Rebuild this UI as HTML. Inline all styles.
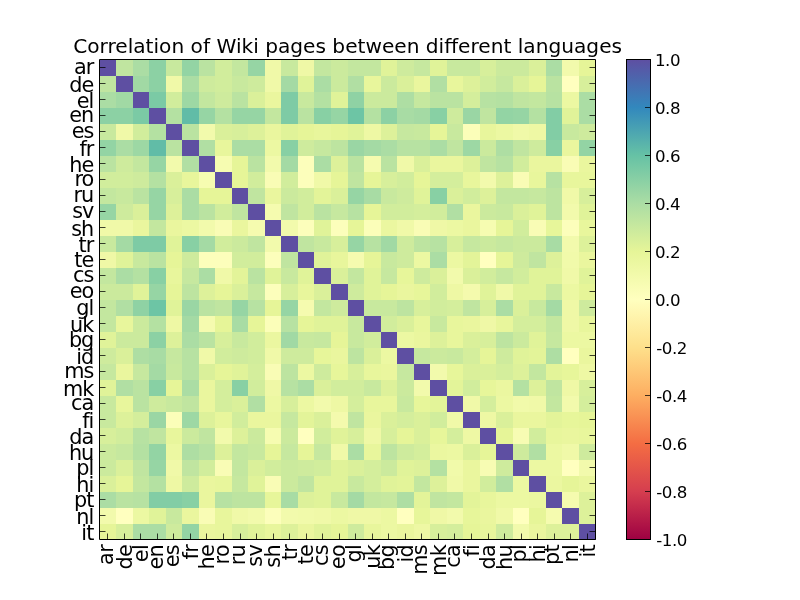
<!DOCTYPE html>
<html><head><meta charset="utf-8"><title>Correlation of Wiki pages between different languages</title>
<style>
html,body{margin:0;padding:0;background:#fff;}
svg{display:block;}
text{font-family:"DejaVu Sans","Liberation Sans",sans-serif;fill:#000;}
.t{font-size:20.15px;}
.yl{font-size:20.8px;text-anchor:end;letter-spacing:-1px;}
.xl{font-size:20.8px;text-anchor:end;letter-spacing:-0.7px;}
.cl{font-size:16.67px;letter-spacing:-0.5px;}
</style></head><body>
<svg width="800" height="600" viewBox="0 0 800 600">
<rect width="800" height="600" fill="#fff"/>
<defs><linearGradient id="cb" x1="0" y1="1" x2="0" y2="0">
<stop offset="0%" stop-color="#9e0142"/>
<stop offset="10%" stop-color="#d53e4f"/>
<stop offset="20%" stop-color="#f46d43"/>
<stop offset="30%" stop-color="#fdae61"/>
<stop offset="40%" stop-color="#fee08b"/>
<stop offset="50%" stop-color="#ffffbf"/>
<stop offset="60%" stop-color="#e6f598"/>
<stop offset="70%" stop-color="#abdda4"/>
<stop offset="80%" stop-color="#66c2a5"/>
<stop offset="90%" stop-color="#3288bd"/>
<stop offset="100%" stop-color="#5e4fa2"/>
</linearGradient></defs>
<g shape-rendering="crispEdges">
<rect x="100" y="60" width="16" height="16" fill="#5e4fa2"/>
<rect x="116" y="60" width="17" height="16" fill="#c0e5a0"/>
<rect x="133" y="60" width="16" height="16" fill="#abdda4"/>
<rect x="149" y="60" width="17" height="16" fill="#8cd1a4"/>
<rect x="166" y="60" width="16" height="16" fill="#c8e99e"/>
<rect x="182" y="60" width="17" height="16" fill="#93d4a4"/>
<rect x="199" y="60" width="16" height="16" fill="#bae3a1"/>
<rect x="215" y="60" width="17" height="16" fill="#d1ed9c"/>
<rect x="232" y="60" width="16" height="16" fill="#c3e79f"/>
<rect x="248" y="60" width="17" height="16" fill="#96d5a4"/>
<rect x="265" y="60" width="16" height="16" fill="#f0f9a8"/>
<rect x="281" y="60" width="17" height="16" fill="#c8e99e"/>
<rect x="298" y="60" width="16" height="16" fill="#eff8a6"/>
<rect x="314" y="60" width="17" height="16" fill="#c3e79f"/>
<rect x="331" y="60" width="17" height="16" fill="#cbea9d"/>
<rect x="348" y="60" width="33" height="16" fill="#c3e79f"/>
<rect x="381" y="60" width="16" height="16" fill="#e0f399"/>
<rect x="397" y="60" width="17" height="16" fill="#ceeb9d"/>
<rect x="414" y="60" width="16" height="16" fill="#c6e89f"/>
<rect x="430" y="60" width="17" height="16" fill="#e0f399"/>
<rect x="447" y="60" width="33" height="16" fill="#c8e99e"/>
<rect x="480" y="60" width="16" height="16" fill="#d7ef9b"/>
<rect x="496" y="60" width="33" height="16" fill="#cbea9d"/>
<rect x="529" y="60" width="17" height="16" fill="#daf09a"/>
<rect x="546" y="60" width="16" height="16" fill="#abdda4"/>
<rect x="562" y="60" width="17" height="16" fill="#f2faac"/>
<rect x="579" y="60" width="17" height="16" fill="#e6f598"/>
<rect x="100" y="76" width="16" height="16" fill="#c0e5a0"/>
<rect x="116" y="76" width="17" height="16" fill="#5e4fa2"/>
<rect x="133" y="76" width="16" height="16" fill="#a1d9a4"/>
<rect x="149" y="76" width="17" height="16" fill="#8cd1a4"/>
<rect x="166" y="76" width="16" height="16" fill="#f0f9a8"/>
<rect x="182" y="76" width="17" height="16" fill="#abdda4"/>
<rect x="199" y="76" width="16" height="16" fill="#ceeb9d"/>
<rect x="215" y="76" width="17" height="16" fill="#d1ed9c"/>
<rect x="232" y="76" width="16" height="16" fill="#c8e99e"/>
<rect x="248" y="76" width="17" height="16" fill="#ceeb9d"/>
<rect x="265" y="76" width="16" height="16" fill="#f0f9a8"/>
<rect x="281" y="76" width="17" height="16" fill="#a4daa4"/>
<rect x="298" y="76" width="16" height="16" fill="#e0f399"/>
<rect x="314" y="76" width="17" height="16" fill="#abdda4"/>
<rect x="331" y="76" width="17" height="16" fill="#cbea9d"/>
<rect x="348" y="76" width="16" height="16" fill="#b1dfa3"/>
<rect x="364" y="76" width="17" height="16" fill="#e8f69c"/>
<rect x="381" y="76" width="16" height="16" fill="#cbea9d"/>
<rect x="397" y="76" width="17" height="16" fill="#daf09a"/>
<rect x="414" y="76" width="16" height="16" fill="#eaf69e"/>
<rect x="430" y="76" width="17" height="16" fill="#b1dfa3"/>
<rect x="447" y="76" width="16" height="16" fill="#e8f69c"/>
<rect x="463" y="76" width="17" height="16" fill="#ddf19a"/>
<rect x="480" y="76" width="16" height="16" fill="#d1ed9c"/>
<rect x="496" y="76" width="17" height="16" fill="#c6e89f"/>
<rect x="513" y="76" width="16" height="16" fill="#daf09a"/>
<rect x="529" y="76" width="17" height="16" fill="#e6f598"/>
<rect x="546" y="76" width="16" height="16" fill="#bae3a1"/>
<rect x="562" y="76" width="17" height="16" fill="#ffffbf"/>
<rect x="579" y="76" width="17" height="16" fill="#d7ef9b"/>
<rect x="100" y="92" width="16" height="16" fill="#abdda4"/>
<rect x="116" y="92" width="17" height="16" fill="#a1d9a4"/>
<rect x="133" y="92" width="16" height="16" fill="#5e4fa2"/>
<rect x="149" y="92" width="17" height="16" fill="#7bcaa5"/>
<rect x="166" y="92" width="16" height="16" fill="#d1ed9c"/>
<rect x="182" y="92" width="17" height="16" fill="#9dd8a4"/>
<rect x="199" y="92" width="16" height="16" fill="#c3e79f"/>
<rect x="215" y="92" width="17" height="16" fill="#ceeb9d"/>
<rect x="232" y="92" width="16" height="16" fill="#bae3a1"/>
<rect x="248" y="92" width="17" height="16" fill="#daf09a"/>
<rect x="265" y="92" width="16" height="16" fill="#eaf69e"/>
<rect x="281" y="92" width="17" height="16" fill="#7ecba5"/>
<rect x="298" y="92" width="16" height="16" fill="#c8e99e"/>
<rect x="314" y="92" width="17" height="16" fill="#b4e1a2"/>
<rect x="331" y="92" width="17" height="16" fill="#e0f399"/>
<rect x="348" y="92" width="16" height="16" fill="#8fd2a4"/>
<rect x="364" y="92" width="33" height="16" fill="#cbea9d"/>
<rect x="397" y="92" width="17" height="16" fill="#aedea3"/>
<rect x="414" y="92" width="16" height="16" fill="#c6e89f"/>
<rect x="430" y="92" width="33" height="16" fill="#bae3a1"/>
<rect x="463" y="92" width="17" height="16" fill="#d4ee9c"/>
<rect x="480" y="92" width="16" height="16" fill="#b7e2a2"/>
<rect x="496" y="92" width="17" height="16" fill="#b4e1a2"/>
<rect x="513" y="92" width="16" height="16" fill="#c0e5a0"/>
<rect x="529" y="92" width="17" height="16" fill="#c3e79f"/>
<rect x="546" y="92" width="16" height="16" fill="#b7e2a2"/>
<rect x="562" y="92" width="17" height="16" fill="#ecf8a2"/>
<rect x="579" y="92" width="17" height="16" fill="#abdda4"/>
<rect x="100" y="108" width="33" height="16" fill="#8cd1a4"/>
<rect x="133" y="108" width="16" height="16" fill="#7bcaa5"/>
<rect x="149" y="108" width="17" height="16" fill="#5e4fa2"/>
<rect x="166" y="108" width="16" height="16" fill="#b4e1a2"/>
<rect x="182" y="108" width="17" height="16" fill="#61bca7"/>
<rect x="199" y="108" width="16" height="16" fill="#96d5a4"/>
<rect x="215" y="108" width="17" height="16" fill="#b4e1a2"/>
<rect x="232" y="108" width="33" height="16" fill="#96d5a4"/>
<rect x="265" y="108" width="16" height="16" fill="#c3e79f"/>
<rect x="281" y="108" width="17" height="16" fill="#7ecba5"/>
<rect x="298" y="108" width="16" height="16" fill="#bae3a1"/>
<rect x="314" y="108" width="17" height="16" fill="#88d0a4"/>
<rect x="331" y="108" width="17" height="16" fill="#96d5a4"/>
<rect x="348" y="108" width="16" height="16" fill="#6dc5a5"/>
<rect x="364" y="108" width="17" height="16" fill="#b4e1a2"/>
<rect x="381" y="108" width="16" height="16" fill="#8cd1a4"/>
<rect x="397" y="108" width="17" height="16" fill="#a8dca4"/>
<rect x="414" y="108" width="16" height="16" fill="#a4daa4"/>
<rect x="430" y="108" width="17" height="16" fill="#88d0a4"/>
<rect x="447" y="108" width="16" height="16" fill="#ceeb9d"/>
<rect x="463" y="108" width="17" height="16" fill="#9ad6a4"/>
<rect x="480" y="108" width="16" height="16" fill="#c0e5a0"/>
<rect x="496" y="108" width="17" height="16" fill="#93d4a4"/>
<rect x="513" y="108" width="16" height="16" fill="#96d5a4"/>
<rect x="529" y="108" width="17" height="16" fill="#b4e1a2"/>
<rect x="546" y="108" width="16" height="16" fill="#82cda5"/>
<rect x="562" y="108" width="17" height="16" fill="#e0f399"/>
<rect x="579" y="108" width="17" height="16" fill="#abdda4"/>
<rect x="100" y="124" width="16" height="16" fill="#c8e99e"/>
<rect x="116" y="124" width="17" height="16" fill="#f0f9a8"/>
<rect x="133" y="124" width="16" height="16" fill="#d1ed9c"/>
<rect x="149" y="124" width="17" height="16" fill="#b4e1a2"/>
<rect x="166" y="124" width="16" height="16" fill="#5e4fa2"/>
<rect x="182" y="124" width="17" height="16" fill="#bae3a1"/>
<rect x="199" y="124" width="16" height="16" fill="#f2faac"/>
<rect x="215" y="124" width="17" height="16" fill="#daf09a"/>
<rect x="232" y="124" width="16" height="16" fill="#d7ef9b"/>
<rect x="248" y="124" width="17" height="16" fill="#ddf19a"/>
<rect x="265" y="124" width="16" height="16" fill="#eaf69e"/>
<rect x="281" y="124" width="17" height="16" fill="#e0f399"/>
<rect x="298" y="124" width="16" height="16" fill="#e6f598"/>
<rect x="314" y="124" width="17" height="16" fill="#e8f69c"/>
<rect x="331" y="124" width="17" height="16" fill="#e6f598"/>
<rect x="348" y="124" width="16" height="16" fill="#e0f399"/>
<rect x="364" y="124" width="17" height="16" fill="#eef8a4"/>
<rect x="381" y="124" width="16" height="16" fill="#ddf19a"/>
<rect x="397" y="124" width="17" height="16" fill="#c6e89f"/>
<rect x="414" y="124" width="16" height="16" fill="#c8e99e"/>
<rect x="430" y="124" width="17" height="16" fill="#e6f598"/>
<rect x="447" y="124" width="16" height="16" fill="#c8e99e"/>
<rect x="463" y="124" width="17" height="16" fill="#fbfeb9"/>
<rect x="480" y="124" width="16" height="16" fill="#e8f69c"/>
<rect x="496" y="124" width="17" height="16" fill="#ecf8a2"/>
<rect x="513" y="124" width="16" height="16" fill="#f0f9a8"/>
<rect x="529" y="124" width="17" height="16" fill="#eef8a4"/>
<rect x="546" y="124" width="16" height="16" fill="#82cda5"/>
<rect x="562" y="124" width="17" height="16" fill="#c8e99e"/>
<rect x="579" y="124" width="17" height="16" fill="#ceeb9d"/>
<rect x="100" y="140" width="16" height="16" fill="#93d4a4"/>
<rect x="116" y="140" width="17" height="16" fill="#abdda4"/>
<rect x="133" y="140" width="16" height="16" fill="#9dd8a4"/>
<rect x="149" y="140" width="17" height="16" fill="#61bca7"/>
<rect x="166" y="140" width="16" height="16" fill="#bae3a1"/>
<rect x="182" y="140" width="17" height="16" fill="#5e4fa2"/>
<rect x="199" y="140" width="16" height="16" fill="#b1dfa3"/>
<rect x="215" y="140" width="17" height="16" fill="#e8f69c"/>
<rect x="232" y="140" width="33" height="16" fill="#abdda4"/>
<rect x="265" y="140" width="16" height="16" fill="#ecf8a2"/>
<rect x="281" y="140" width="17" height="16" fill="#88d0a4"/>
<rect x="298" y="140" width="16" height="16" fill="#ceeb9d"/>
<rect x="314" y="140" width="17" height="16" fill="#c6e89f"/>
<rect x="331" y="140" width="17" height="16" fill="#bde4a0"/>
<rect x="348" y="140" width="16" height="16" fill="#9ad6a4"/>
<rect x="364" y="140" width="17" height="16" fill="#a4daa4"/>
<rect x="381" y="140" width="16" height="16" fill="#abdda4"/>
<rect x="397" y="140" width="33" height="16" fill="#b7e2a2"/>
<rect x="430" y="140" width="17" height="16" fill="#abdda4"/>
<rect x="447" y="140" width="16" height="16" fill="#c0e5a0"/>
<rect x="463" y="140" width="17" height="16" fill="#9dd8a4"/>
<rect x="480" y="140" width="16" height="16" fill="#cbea9d"/>
<rect x="496" y="140" width="17" height="16" fill="#aedea3"/>
<rect x="513" y="140" width="16" height="16" fill="#c0e5a0"/>
<rect x="529" y="140" width="17" height="16" fill="#ceeb9d"/>
<rect x="546" y="140" width="16" height="16" fill="#88d0a4"/>
<rect x="562" y="140" width="17" height="16" fill="#eaf69e"/>
<rect x="579" y="140" width="17" height="16" fill="#93d4a4"/>
<rect x="100" y="156" width="16" height="16" fill="#bae3a1"/>
<rect x="116" y="156" width="17" height="16" fill="#ceeb9d"/>
<rect x="133" y="156" width="16" height="16" fill="#c3e79f"/>
<rect x="149" y="156" width="17" height="16" fill="#96d5a4"/>
<rect x="166" y="156" width="16" height="16" fill="#f2faac"/>
<rect x="182" y="156" width="17" height="16" fill="#b1dfa3"/>
<rect x="199" y="156" width="16" height="16" fill="#5e4fa2"/>
<rect x="215" y="156" width="17" height="16" fill="#f6fcb1"/>
<rect x="232" y="156" width="16" height="16" fill="#e6f598"/>
<rect x="248" y="156" width="17" height="16" fill="#bae3a1"/>
<rect x="265" y="156" width="16" height="16" fill="#f2faac"/>
<rect x="281" y="156" width="17" height="16" fill="#a4daa4"/>
<rect x="298" y="156" width="16" height="16" fill="#fcfebb"/>
<rect x="314" y="156" width="17" height="16" fill="#abdda4"/>
<rect x="331" y="156" width="17" height="16" fill="#ddf19a"/>
<rect x="348" y="156" width="16" height="16" fill="#bae3a1"/>
<rect x="364" y="156" width="17" height="16" fill="#f5fbaf"/>
<rect x="381" y="156" width="16" height="16" fill="#bae3a1"/>
<rect x="397" y="156" width="17" height="16" fill="#f0f9a8"/>
<rect x="414" y="156" width="16" height="16" fill="#daf09a"/>
<rect x="430" y="156" width="33" height="16" fill="#eaf69e"/>
<rect x="463" y="156" width="17" height="16" fill="#ddf19a"/>
<rect x="480" y="156" width="16" height="16" fill="#c0e5a0"/>
<rect x="496" y="156" width="17" height="16" fill="#b7e2a2"/>
<rect x="513" y="156" width="16" height="16" fill="#d1ed9c"/>
<rect x="529" y="156" width="33" height="16" fill="#eaf69e"/>
<rect x="562" y="156" width="17" height="16" fill="#f9fcb5"/>
<rect x="579" y="156" width="17" height="16" fill="#eaf69e"/>
<rect x="100" y="172" width="33" height="16" fill="#d1ed9c"/>
<rect x="133" y="172" width="16" height="16" fill="#ceeb9d"/>
<rect x="149" y="172" width="17" height="16" fill="#b4e1a2"/>
<rect x="166" y="172" width="16" height="16" fill="#daf09a"/>
<rect x="182" y="172" width="17" height="16" fill="#e8f69c"/>
<rect x="199" y="172" width="16" height="16" fill="#f6fcb1"/>
<rect x="215" y="172" width="17" height="16" fill="#5e4fa2"/>
<rect x="232" y="172" width="16" height="16" fill="#e6f598"/>
<rect x="248" y="172" width="17" height="16" fill="#d1ed9c"/>
<rect x="265" y="172" width="16" height="16" fill="#f9fcb5"/>
<rect x="281" y="172" width="17" height="16" fill="#d1ed9c"/>
<rect x="298" y="172" width="16" height="16" fill="#fcfebb"/>
<rect x="314" y="172" width="17" height="16" fill="#f0f9a8"/>
<rect x="331" y="172" width="17" height="16" fill="#e6f598"/>
<rect x="348" y="172" width="16" height="16" fill="#c0e5a0"/>
<rect x="364" y="172" width="17" height="16" fill="#e6f598"/>
<rect x="381" y="172" width="16" height="16" fill="#d7ef9b"/>
<rect x="397" y="172" width="17" height="16" fill="#d1ed9c"/>
<rect x="414" y="172" width="16" height="16" fill="#e6f598"/>
<rect x="430" y="172" width="33" height="16" fill="#d4ee9c"/>
<rect x="463" y="172" width="17" height="16" fill="#e8f69c"/>
<rect x="480" y="172" width="16" height="16" fill="#f2faac"/>
<rect x="496" y="172" width="17" height="16" fill="#ddf19a"/>
<rect x="513" y="172" width="16" height="16" fill="#f9fcb5"/>
<rect x="529" y="172" width="17" height="16" fill="#e8f69c"/>
<rect x="546" y="172" width="16" height="16" fill="#b7e2a2"/>
<rect x="562" y="172" width="34" height="16" fill="#e8f69c"/>
<rect x="100" y="188" width="16" height="16" fill="#c3e79f"/>
<rect x="116" y="188" width="17" height="16" fill="#c8e99e"/>
<rect x="133" y="188" width="16" height="16" fill="#bae3a1"/>
<rect x="149" y="188" width="17" height="16" fill="#96d5a4"/>
<rect x="166" y="188" width="16" height="16" fill="#d7ef9b"/>
<rect x="182" y="188" width="17" height="16" fill="#abdda4"/>
<rect x="199" y="188" width="33" height="16" fill="#e6f598"/>
<rect x="232" y="188" width="16" height="16" fill="#5e4fa2"/>
<rect x="248" y="188" width="17" height="16" fill="#c0e5a0"/>
<rect x="265" y="188" width="16" height="16" fill="#eaf69e"/>
<rect x="281" y="188" width="17" height="16" fill="#cbea9d"/>
<rect x="298" y="188" width="16" height="16" fill="#d1ed9c"/>
<rect x="314" y="188" width="17" height="16" fill="#e3f499"/>
<rect x="331" y="188" width="17" height="16" fill="#daf09a"/>
<rect x="348" y="188" width="16" height="16" fill="#96d5a4"/>
<rect x="364" y="188" width="17" height="16" fill="#a8dca4"/>
<rect x="381" y="188" width="16" height="16" fill="#c8e99e"/>
<rect x="397" y="188" width="17" height="16" fill="#ceeb9d"/>
<rect x="414" y="188" width="16" height="16" fill="#e0f399"/>
<rect x="430" y="188" width="17" height="16" fill="#88d0a4"/>
<rect x="447" y="188" width="16" height="16" fill="#daf09a"/>
<rect x="463" y="188" width="17" height="16" fill="#d1ed9c"/>
<rect x="480" y="188" width="16" height="16" fill="#ddf19a"/>
<rect x="496" y="188" width="33" height="16" fill="#c3e79f"/>
<rect x="529" y="188" width="17" height="16" fill="#c6e89f"/>
<rect x="546" y="188" width="16" height="16" fill="#bde4a0"/>
<rect x="562" y="188" width="17" height="16" fill="#f0f9a8"/>
<rect x="579" y="188" width="17" height="16" fill="#d7ef9b"/>
<rect x="100" y="204" width="16" height="16" fill="#96d5a4"/>
<rect x="116" y="204" width="17" height="16" fill="#ceeb9d"/>
<rect x="133" y="204" width="16" height="16" fill="#daf09a"/>
<rect x="149" y="204" width="17" height="16" fill="#96d5a4"/>
<rect x="166" y="204" width="16" height="16" fill="#ddf19a"/>
<rect x="182" y="204" width="17" height="16" fill="#abdda4"/>
<rect x="199" y="204" width="16" height="16" fill="#bae3a1"/>
<rect x="215" y="204" width="17" height="16" fill="#d1ed9c"/>
<rect x="232" y="204" width="16" height="16" fill="#c0e5a0"/>
<rect x="248" y="204" width="17" height="16" fill="#5e4fa2"/>
<rect x="265" y="204" width="16" height="16" fill="#f5fbaf"/>
<rect x="281" y="204" width="17" height="16" fill="#c0e5a0"/>
<rect x="298" y="204" width="16" height="16" fill="#d1ed9c"/>
<rect x="314" y="204" width="17" height="16" fill="#bae3a1"/>
<rect x="331" y="204" width="17" height="16" fill="#c6e89f"/>
<rect x="348" y="204" width="16" height="16" fill="#b7e2a2"/>
<rect x="364" y="204" width="17" height="16" fill="#e6f598"/>
<rect x="381" y="204" width="33" height="16" fill="#d1ed9c"/>
<rect x="414" y="204" width="16" height="16" fill="#d4ee9c"/>
<rect x="430" y="204" width="17" height="16" fill="#d1ed9c"/>
<rect x="447" y="204" width="16" height="16" fill="#b1dfa3"/>
<rect x="463" y="204" width="17" height="16" fill="#eaf69e"/>
<rect x="480" y="204" width="16" height="16" fill="#cbea9d"/>
<rect x="496" y="204" width="17" height="16" fill="#c8e99e"/>
<rect x="513" y="204" width="16" height="16" fill="#daf09a"/>
<rect x="529" y="204" width="17" height="16" fill="#e0f399"/>
<rect x="546" y="204" width="16" height="16" fill="#bde4a0"/>
<rect x="562" y="204" width="17" height="16" fill="#f2faac"/>
<rect x="579" y="204" width="17" height="16" fill="#e0f399"/>
<rect x="100" y="220" width="33" height="16" fill="#f0f9a8"/>
<rect x="133" y="220" width="16" height="16" fill="#eaf69e"/>
<rect x="149" y="220" width="17" height="16" fill="#c3e79f"/>
<rect x="166" y="220" width="16" height="16" fill="#eaf69e"/>
<rect x="182" y="220" width="17" height="16" fill="#ecf8a2"/>
<rect x="199" y="220" width="16" height="16" fill="#f2faac"/>
<rect x="215" y="220" width="17" height="16" fill="#f9fcb5"/>
<rect x="232" y="220" width="16" height="16" fill="#eaf69e"/>
<rect x="248" y="220" width="17" height="16" fill="#f5fbaf"/>
<rect x="265" y="220" width="16" height="16" fill="#5e4fa2"/>
<rect x="281" y="220" width="17" height="16" fill="#f2faac"/>
<rect x="298" y="220" width="16" height="16" fill="#fcfebb"/>
<rect x="314" y="220" width="17" height="16" fill="#e0f399"/>
<rect x="331" y="220" width="17" height="16" fill="#fcfebb"/>
<rect x="348" y="220" width="16" height="16" fill="#e6f598"/>
<rect x="364" y="220" width="17" height="16" fill="#fbfeb9"/>
<rect x="381" y="220" width="16" height="16" fill="#ebf7a0"/>
<rect x="397" y="220" width="17" height="16" fill="#f0f9a8"/>
<rect x="414" y="220" width="16" height="16" fill="#f9fcb5"/>
<rect x="430" y="220" width="17" height="16" fill="#eff8a6"/>
<rect x="447" y="220" width="16" height="16" fill="#ecf8a2"/>
<rect x="463" y="220" width="17" height="16" fill="#eaf69e"/>
<rect x="480" y="220" width="16" height="16" fill="#f6fcb1"/>
<rect x="496" y="220" width="17" height="16" fill="#e6f598"/>
<rect x="513" y="220" width="16" height="16" fill="#d1ed9c"/>
<rect x="529" y="220" width="17" height="16" fill="#f9fcb5"/>
<rect x="546" y="220" width="16" height="16" fill="#e7f69a"/>
<rect x="562" y="220" width="17" height="16" fill="#fcfebb"/>
<rect x="579" y="220" width="17" height="16" fill="#e8f69c"/>
<rect x="100" y="236" width="16" height="16" fill="#c8e99e"/>
<rect x="116" y="236" width="17" height="16" fill="#a4daa4"/>
<rect x="133" y="236" width="33" height="16" fill="#7ecba5"/>
<rect x="166" y="236" width="16" height="16" fill="#e0f399"/>
<rect x="182" y="236" width="17" height="16" fill="#88d0a4"/>
<rect x="199" y="236" width="16" height="16" fill="#a4daa4"/>
<rect x="215" y="236" width="17" height="16" fill="#d1ed9c"/>
<rect x="232" y="236" width="16" height="16" fill="#cbea9d"/>
<rect x="248" y="236" width="17" height="16" fill="#c0e5a0"/>
<rect x="265" y="236" width="16" height="16" fill="#f2faac"/>
<rect x="281" y="236" width="17" height="16" fill="#5e4fa2"/>
<rect x="298" y="236" width="16" height="16" fill="#c0e5a0"/>
<rect x="314" y="236" width="17" height="16" fill="#c8e99e"/>
<rect x="331" y="236" width="17" height="16" fill="#d7ef9b"/>
<rect x="348" y="236" width="16" height="16" fill="#96d5a4"/>
<rect x="364" y="236" width="17" height="16" fill="#b7e2a2"/>
<rect x="381" y="236" width="16" height="16" fill="#a1d9a4"/>
<rect x="397" y="236" width="17" height="16" fill="#ceeb9d"/>
<rect x="414" y="236" width="16" height="16" fill="#bde4a0"/>
<rect x="430" y="236" width="17" height="16" fill="#b7e2a2"/>
<rect x="447" y="236" width="16" height="16" fill="#d7ef9b"/>
<rect x="463" y="236" width="17" height="16" fill="#c6e89f"/>
<rect x="480" y="236" width="16" height="16" fill="#cbea9d"/>
<rect x="496" y="236" width="17" height="16" fill="#c6e89f"/>
<rect x="513" y="236" width="33" height="16" fill="#cbea9d"/>
<rect x="546" y="236" width="16" height="16" fill="#a8dca4"/>
<rect x="562" y="236" width="17" height="16" fill="#f2faac"/>
<rect x="579" y="236" width="17" height="16" fill="#ddf19a"/>
<rect x="100" y="252" width="16" height="16" fill="#eff8a6"/>
<rect x="116" y="252" width="17" height="16" fill="#e0f399"/>
<rect x="133" y="252" width="16" height="16" fill="#c8e99e"/>
<rect x="149" y="252" width="17" height="16" fill="#bae3a1"/>
<rect x="166" y="252" width="16" height="16" fill="#e6f598"/>
<rect x="182" y="252" width="17" height="16" fill="#ceeb9d"/>
<rect x="199" y="252" width="33" height="16" fill="#fcfebb"/>
<rect x="232" y="252" width="33" height="16" fill="#d1ed9c"/>
<rect x="265" y="252" width="16" height="16" fill="#fcfebb"/>
<rect x="281" y="252" width="17" height="16" fill="#c0e5a0"/>
<rect x="298" y="252" width="16" height="16" fill="#5e4fa2"/>
<rect x="314" y="252" width="17" height="16" fill="#e0f399"/>
<rect x="331" y="252" width="17" height="16" fill="#e8f69c"/>
<rect x="348" y="252" width="16" height="16" fill="#f5fbaf"/>
<rect x="364" y="252" width="17" height="16" fill="#e6f598"/>
<rect x="381" y="252" width="16" height="16" fill="#c8e99e"/>
<rect x="397" y="252" width="17" height="16" fill="#ceeb9d"/>
<rect x="414" y="252" width="16" height="16" fill="#ecf8a2"/>
<rect x="430" y="252" width="17" height="16" fill="#abdda4"/>
<rect x="447" y="252" width="16" height="16" fill="#ecf8a2"/>
<rect x="463" y="252" width="17" height="16" fill="#e3f499"/>
<rect x="480" y="252" width="16" height="16" fill="#ffffbf"/>
<rect x="496" y="252" width="17" height="16" fill="#e6f598"/>
<rect x="513" y="252" width="16" height="16" fill="#ceeb9d"/>
<rect x="529" y="252" width="17" height="16" fill="#c0e5a0"/>
<rect x="546" y="252" width="16" height="16" fill="#ddf19a"/>
<rect x="562" y="252" width="17" height="16" fill="#f1faaa"/>
<rect x="579" y="252" width="17" height="16" fill="#eaf69e"/>
<rect x="100" y="268" width="16" height="16" fill="#c3e79f"/>
<rect x="116" y="268" width="17" height="16" fill="#abdda4"/>
<rect x="133" y="268" width="16" height="16" fill="#b4e1a2"/>
<rect x="149" y="268" width="17" height="16" fill="#88d0a4"/>
<rect x="166" y="268" width="16" height="16" fill="#e8f69c"/>
<rect x="182" y="268" width="17" height="16" fill="#c6e89f"/>
<rect x="199" y="268" width="16" height="16" fill="#abdda4"/>
<rect x="215" y="268" width="17" height="16" fill="#f0f9a8"/>
<rect x="232" y="268" width="16" height="16" fill="#e3f499"/>
<rect x="248" y="268" width="17" height="16" fill="#bae3a1"/>
<rect x="265" y="268" width="16" height="16" fill="#e0f399"/>
<rect x="281" y="268" width="17" height="16" fill="#c8e99e"/>
<rect x="298" y="268" width="16" height="16" fill="#e0f399"/>
<rect x="314" y="268" width="17" height="16" fill="#5e4fa2"/>
<rect x="331" y="268" width="17" height="16" fill="#daf09a"/>
<rect x="348" y="268" width="16" height="16" fill="#c3e79f"/>
<rect x="364" y="268" width="17" height="16" fill="#e0f399"/>
<rect x="381" y="268" width="16" height="16" fill="#c6e89f"/>
<rect x="397" y="268" width="17" height="16" fill="#e7f69a"/>
<rect x="414" y="268" width="16" height="16" fill="#ceeb9d"/>
<rect x="430" y="268" width="17" height="16" fill="#daf09a"/>
<rect x="447" y="268" width="16" height="16" fill="#f2faac"/>
<rect x="463" y="268" width="17" height="16" fill="#daf09a"/>
<rect x="480" y="268" width="16" height="16" fill="#d1ed9c"/>
<rect x="496" y="268" width="17" height="16" fill="#c6e89f"/>
<rect x="513" y="268" width="16" height="16" fill="#d1ed9c"/>
<rect x="529" y="268" width="33" height="16" fill="#e0f399"/>
<rect x="562" y="268" width="17" height="16" fill="#f0f9a8"/>
<rect x="579" y="268" width="17" height="16" fill="#e0f399"/>
<rect x="100" y="284" width="33" height="16" fill="#cbea9d"/>
<rect x="133" y="284" width="16" height="16" fill="#e0f399"/>
<rect x="149" y="284" width="17" height="16" fill="#96d5a4"/>
<rect x="166" y="284" width="16" height="16" fill="#e6f598"/>
<rect x="182" y="284" width="17" height="16" fill="#bde4a0"/>
<rect x="199" y="284" width="16" height="16" fill="#ddf19a"/>
<rect x="215" y="284" width="17" height="16" fill="#e6f598"/>
<rect x="232" y="284" width="16" height="16" fill="#daf09a"/>
<rect x="248" y="284" width="17" height="16" fill="#c6e89f"/>
<rect x="265" y="284" width="16" height="16" fill="#fcfebb"/>
<rect x="281" y="284" width="17" height="16" fill="#d7ef9b"/>
<rect x="298" y="284" width="16" height="16" fill="#e8f69c"/>
<rect x="314" y="284" width="17" height="16" fill="#daf09a"/>
<rect x="331" y="284" width="17" height="16" fill="#5e4fa2"/>
<rect x="348" y="284" width="16" height="16" fill="#ceeb9d"/>
<rect x="364" y="284" width="17" height="16" fill="#e0f399"/>
<rect x="381" y="284" width="16" height="16" fill="#e6f598"/>
<rect x="397" y="284" width="17" height="16" fill="#eaf69e"/>
<rect x="414" y="284" width="16" height="16" fill="#e7f69a"/>
<rect x="430" y="284" width="17" height="16" fill="#d1ed9c"/>
<rect x="447" y="284" width="16" height="16" fill="#eef8a4"/>
<rect x="463" y="284" width="17" height="16" fill="#f4faad"/>
<rect x="480" y="284" width="16" height="16" fill="#e0f399"/>
<rect x="496" y="284" width="17" height="16" fill="#f0f9a8"/>
<rect x="513" y="284" width="33" height="16" fill="#e0f399"/>
<rect x="546" y="284" width="16" height="16" fill="#c8e99e"/>
<rect x="562" y="284" width="17" height="16" fill="#ecf8a2"/>
<rect x="579" y="284" width="17" height="16" fill="#e6f598"/>
<rect x="100" y="300" width="16" height="16" fill="#c3e79f"/>
<rect x="116" y="300" width="17" height="16" fill="#b1dfa3"/>
<rect x="133" y="300" width="16" height="16" fill="#8fd2a4"/>
<rect x="149" y="300" width="17" height="16" fill="#6dc5a5"/>
<rect x="166" y="300" width="16" height="16" fill="#e0f399"/>
<rect x="182" y="300" width="17" height="16" fill="#9ad6a4"/>
<rect x="199" y="300" width="16" height="16" fill="#bae3a1"/>
<rect x="215" y="300" width="17" height="16" fill="#c0e5a0"/>
<rect x="232" y="300" width="16" height="16" fill="#96d5a4"/>
<rect x="248" y="300" width="17" height="16" fill="#b7e2a2"/>
<rect x="265" y="300" width="16" height="16" fill="#e6f598"/>
<rect x="281" y="300" width="17" height="16" fill="#96d5a4"/>
<rect x="298" y="300" width="16" height="16" fill="#f5fbaf"/>
<rect x="314" y="300" width="17" height="16" fill="#c3e79f"/>
<rect x="331" y="300" width="17" height="16" fill="#ceeb9d"/>
<rect x="348" y="300" width="16" height="16" fill="#5e4fa2"/>
<rect x="364" y="300" width="33" height="16" fill="#c8e99e"/>
<rect x="397" y="300" width="17" height="16" fill="#bde4a0"/>
<rect x="414" y="300" width="16" height="16" fill="#d7ef9b"/>
<rect x="430" y="300" width="17" height="16" fill="#d1ed9c"/>
<rect x="447" y="300" width="16" height="16" fill="#d4ee9c"/>
<rect x="463" y="300" width="17" height="16" fill="#c0e5a0"/>
<rect x="480" y="300" width="16" height="16" fill="#d7ef9b"/>
<rect x="496" y="300" width="17" height="16" fill="#abdda4"/>
<rect x="513" y="300" width="16" height="16" fill="#daf09a"/>
<rect x="529" y="300" width="17" height="16" fill="#c8e99e"/>
<rect x="546" y="300" width="16" height="16" fill="#a4daa4"/>
<rect x="562" y="300" width="17" height="16" fill="#eff8a6"/>
<rect x="579" y="300" width="17" height="16" fill="#ceeb9d"/>
<rect x="100" y="316" width="16" height="16" fill="#c3e79f"/>
<rect x="116" y="316" width="17" height="16" fill="#e8f69c"/>
<rect x="133" y="316" width="16" height="16" fill="#cbea9d"/>
<rect x="149" y="316" width="17" height="16" fill="#b4e1a2"/>
<rect x="166" y="316" width="16" height="16" fill="#eef8a4"/>
<rect x="182" y="316" width="17" height="16" fill="#a4daa4"/>
<rect x="199" y="316" width="16" height="16" fill="#f5fbaf"/>
<rect x="215" y="316" width="17" height="16" fill="#e6f598"/>
<rect x="232" y="316" width="16" height="16" fill="#a8dca4"/>
<rect x="248" y="316" width="17" height="16" fill="#e6f598"/>
<rect x="265" y="316" width="16" height="16" fill="#fbfeb9"/>
<rect x="281" y="316" width="17" height="16" fill="#b7e2a2"/>
<rect x="298" y="316" width="16" height="16" fill="#e6f598"/>
<rect x="314" y="316" width="34" height="16" fill="#e0f399"/>
<rect x="348" y="316" width="16" height="16" fill="#c8e99e"/>
<rect x="364" y="316" width="17" height="16" fill="#5e4fa2"/>
<rect x="381" y="316" width="16" height="16" fill="#d1ed9c"/>
<rect x="397" y="316" width="17" height="16" fill="#daf09a"/>
<rect x="414" y="316" width="16" height="16" fill="#e8f69c"/>
<rect x="430" y="316" width="17" height="16" fill="#c8e99e"/>
<rect x="447" y="316" width="16" height="16" fill="#e8f69c"/>
<rect x="463" y="316" width="17" height="16" fill="#eaf69e"/>
<rect x="480" y="316" width="16" height="16" fill="#eff8a6"/>
<rect x="496" y="316" width="17" height="16" fill="#e8f69c"/>
<rect x="513" y="316" width="33" height="16" fill="#d4ee9c"/>
<rect x="546" y="316" width="16" height="16" fill="#c3e79f"/>
<rect x="562" y="316" width="17" height="16" fill="#eff8a6"/>
<rect x="579" y="316" width="17" height="16" fill="#e8f69c"/>
<rect x="100" y="332" width="16" height="16" fill="#e0f399"/>
<rect x="116" y="332" width="33" height="16" fill="#cbea9d"/>
<rect x="149" y="332" width="17" height="16" fill="#8cd1a4"/>
<rect x="166" y="332" width="16" height="16" fill="#ddf19a"/>
<rect x="182" y="332" width="17" height="16" fill="#abdda4"/>
<rect x="199" y="332" width="16" height="16" fill="#bae3a1"/>
<rect x="215" y="332" width="17" height="16" fill="#d7ef9b"/>
<rect x="232" y="332" width="16" height="16" fill="#c8e99e"/>
<rect x="248" y="332" width="17" height="16" fill="#d1ed9c"/>
<rect x="265" y="332" width="16" height="16" fill="#ebf7a0"/>
<rect x="281" y="332" width="17" height="16" fill="#a1d9a4"/>
<rect x="298" y="332" width="16" height="16" fill="#c8e99e"/>
<rect x="314" y="332" width="17" height="16" fill="#c6e89f"/>
<rect x="331" y="332" width="17" height="16" fill="#e6f598"/>
<rect x="348" y="332" width="16" height="16" fill="#c8e99e"/>
<rect x="364" y="332" width="17" height="16" fill="#d1ed9c"/>
<rect x="381" y="332" width="16" height="16" fill="#5e4fa2"/>
<rect x="397" y="332" width="17" height="16" fill="#ecf8a2"/>
<rect x="414" y="332" width="16" height="16" fill="#eaf69e"/>
<rect x="430" y="332" width="17" height="16" fill="#ddf19a"/>
<rect x="447" y="332" width="16" height="16" fill="#e8f69c"/>
<rect x="463" y="332" width="17" height="16" fill="#daf09a"/>
<rect x="480" y="332" width="16" height="16" fill="#d7ef9b"/>
<rect x="496" y="332" width="17" height="16" fill="#bde4a0"/>
<rect x="513" y="332" width="16" height="16" fill="#cbea9d"/>
<rect x="529" y="332" width="17" height="16" fill="#e0f399"/>
<rect x="546" y="332" width="16" height="16" fill="#c6e89f"/>
<rect x="562" y="332" width="34" height="16" fill="#ecf8a2"/>
<rect x="100" y="348" width="16" height="16" fill="#ceeb9d"/>
<rect x="116" y="348" width="17" height="16" fill="#daf09a"/>
<rect x="133" y="348" width="16" height="16" fill="#aedea3"/>
<rect x="149" y="348" width="17" height="16" fill="#a8dca4"/>
<rect x="166" y="348" width="16" height="16" fill="#c6e89f"/>
<rect x="182" y="348" width="17" height="16" fill="#b7e2a2"/>
<rect x="199" y="348" width="16" height="16" fill="#f0f9a8"/>
<rect x="215" y="348" width="17" height="16" fill="#d1ed9c"/>
<rect x="232" y="348" width="16" height="16" fill="#ceeb9d"/>
<rect x="248" y="348" width="17" height="16" fill="#d1ed9c"/>
<rect x="265" y="348" width="16" height="16" fill="#f0f9a8"/>
<rect x="281" y="348" width="33" height="16" fill="#ceeb9d"/>
<rect x="314" y="348" width="17" height="16" fill="#e7f69a"/>
<rect x="331" y="348" width="17" height="16" fill="#eaf69e"/>
<rect x="348" y="348" width="16" height="16" fill="#bde4a0"/>
<rect x="364" y="348" width="17" height="16" fill="#daf09a"/>
<rect x="381" y="348" width="16" height="16" fill="#ecf8a2"/>
<rect x="397" y="348" width="17" height="16" fill="#5e4fa2"/>
<rect x="414" y="348" width="16" height="16" fill="#c6e89f"/>
<rect x="430" y="348" width="17" height="16" fill="#cbea9d"/>
<rect x="447" y="348" width="16" height="16" fill="#c8e99e"/>
<rect x="463" y="348" width="17" height="16" fill="#d4ee9c"/>
<rect x="480" y="348" width="16" height="16" fill="#e6f598"/>
<rect x="496" y="348" width="17" height="16" fill="#ceeb9d"/>
<rect x="513" y="348" width="16" height="16" fill="#e0f399"/>
<rect x="529" y="348" width="17" height="16" fill="#e3f499"/>
<rect x="546" y="348" width="16" height="16" fill="#aedea3"/>
<rect x="562" y="348" width="17" height="16" fill="#ffffbf"/>
<rect x="579" y="348" width="17" height="16" fill="#eaf69e"/>
<rect x="100" y="364" width="16" height="16" fill="#c6e89f"/>
<rect x="116" y="364" width="17" height="16" fill="#eaf69e"/>
<rect x="133" y="364" width="16" height="16" fill="#c6e89f"/>
<rect x="149" y="364" width="17" height="16" fill="#a4daa4"/>
<rect x="166" y="364" width="16" height="16" fill="#c8e99e"/>
<rect x="182" y="364" width="17" height="16" fill="#b7e2a2"/>
<rect x="199" y="364" width="16" height="16" fill="#daf09a"/>
<rect x="215" y="364" width="17" height="16" fill="#e6f598"/>
<rect x="232" y="364" width="16" height="16" fill="#e0f399"/>
<rect x="248" y="364" width="17" height="16" fill="#d4ee9c"/>
<rect x="265" y="364" width="16" height="16" fill="#f9fcb5"/>
<rect x="281" y="364" width="17" height="16" fill="#bde4a0"/>
<rect x="298" y="364" width="16" height="16" fill="#ecf8a2"/>
<rect x="314" y="364" width="17" height="16" fill="#ceeb9d"/>
<rect x="331" y="364" width="17" height="16" fill="#e7f69a"/>
<rect x="348" y="364" width="16" height="16" fill="#d7ef9b"/>
<rect x="364" y="364" width="17" height="16" fill="#e8f69c"/>
<rect x="381" y="364" width="16" height="16" fill="#eaf69e"/>
<rect x="397" y="364" width="17" height="16" fill="#c6e89f"/>
<rect x="414" y="364" width="16" height="16" fill="#5e4fa2"/>
<rect x="430" y="364" width="17" height="16" fill="#f2faac"/>
<rect x="447" y="364" width="16" height="16" fill="#e7f69a"/>
<rect x="463" y="364" width="33" height="16" fill="#daf09a"/>
<rect x="496" y="364" width="17" height="16" fill="#d4ee9c"/>
<rect x="513" y="364" width="16" height="16" fill="#ddf19a"/>
<rect x="529" y="364" width="17" height="16" fill="#c3e79f"/>
<rect x="546" y="364" width="16" height="16" fill="#e3f499"/>
<rect x="562" y="364" width="17" height="16" fill="#e7f69a"/>
<rect x="579" y="364" width="17" height="16" fill="#eef8a4"/>
<rect x="100" y="380" width="16" height="16" fill="#e0f399"/>
<rect x="116" y="380" width="17" height="16" fill="#b1dfa3"/>
<rect x="133" y="380" width="16" height="16" fill="#bae3a1"/>
<rect x="149" y="380" width="17" height="16" fill="#88d0a4"/>
<rect x="166" y="380" width="16" height="16" fill="#e6f598"/>
<rect x="182" y="380" width="17" height="16" fill="#abdda4"/>
<rect x="199" y="380" width="16" height="16" fill="#eaf69e"/>
<rect x="215" y="380" width="17" height="16" fill="#d4ee9c"/>
<rect x="232" y="380" width="16" height="16" fill="#88d0a4"/>
<rect x="248" y="380" width="17" height="16" fill="#d1ed9c"/>
<rect x="265" y="380" width="16" height="16" fill="#eff8a6"/>
<rect x="281" y="380" width="17" height="16" fill="#b7e2a2"/>
<rect x="298" y="380" width="16" height="16" fill="#abdda4"/>
<rect x="314" y="380" width="17" height="16" fill="#daf09a"/>
<rect x="331" y="380" width="33" height="16" fill="#d1ed9c"/>
<rect x="364" y="380" width="17" height="16" fill="#c8e99e"/>
<rect x="381" y="380" width="16" height="16" fill="#ddf19a"/>
<rect x="397" y="380" width="17" height="16" fill="#cbea9d"/>
<rect x="414" y="380" width="16" height="16" fill="#f2faac"/>
<rect x="430" y="380" width="17" height="16" fill="#5e4fa2"/>
<rect x="447" y="380" width="16" height="16" fill="#e3f499"/>
<rect x="463" y="380" width="17" height="16" fill="#d1ed9c"/>
<rect x="480" y="380" width="16" height="16" fill="#e7f69a"/>
<rect x="496" y="380" width="17" height="16" fill="#ebf7a0"/>
<rect x="513" y="380" width="16" height="16" fill="#b4e1a2"/>
<rect x="529" y="380" width="17" height="16" fill="#ddf19a"/>
<rect x="546" y="380" width="16" height="16" fill="#c0e5a0"/>
<rect x="562" y="380" width="17" height="16" fill="#eff8a6"/>
<rect x="579" y="380" width="17" height="16" fill="#d7ef9b"/>
<rect x="100" y="396" width="16" height="16" fill="#c8e99e"/>
<rect x="116" y="396" width="17" height="16" fill="#e8f69c"/>
<rect x="133" y="396" width="16" height="16" fill="#bae3a1"/>
<rect x="149" y="396" width="17" height="16" fill="#ceeb9d"/>
<rect x="166" y="396" width="16" height="16" fill="#c8e99e"/>
<rect x="182" y="396" width="17" height="16" fill="#c0e5a0"/>
<rect x="199" y="396" width="16" height="16" fill="#eaf69e"/>
<rect x="215" y="396" width="17" height="16" fill="#d4ee9c"/>
<rect x="232" y="396" width="16" height="16" fill="#daf09a"/>
<rect x="248" y="396" width="17" height="16" fill="#b1dfa3"/>
<rect x="265" y="396" width="16" height="16" fill="#ecf8a2"/>
<rect x="281" y="396" width="17" height="16" fill="#d7ef9b"/>
<rect x="298" y="396" width="16" height="16" fill="#ecf8a2"/>
<rect x="314" y="396" width="17" height="16" fill="#f2faac"/>
<rect x="331" y="396" width="17" height="16" fill="#eef8a4"/>
<rect x="348" y="396" width="16" height="16" fill="#d4ee9c"/>
<rect x="364" y="396" width="33" height="16" fill="#e8f69c"/>
<rect x="397" y="396" width="17" height="16" fill="#c8e99e"/>
<rect x="414" y="396" width="16" height="16" fill="#e7f69a"/>
<rect x="430" y="396" width="17" height="16" fill="#e3f499"/>
<rect x="447" y="396" width="16" height="16" fill="#5e4fa2"/>
<rect x="463" y="396" width="17" height="16" fill="#f0f9a8"/>
<rect x="480" y="396" width="16" height="16" fill="#d4ee9c"/>
<rect x="496" y="396" width="17" height="16" fill="#ecf8a2"/>
<rect x="513" y="396" width="16" height="16" fill="#f1faaa"/>
<rect x="529" y="396" width="17" height="16" fill="#f0f9a8"/>
<rect x="546" y="396" width="16" height="16" fill="#c3e79f"/>
<rect x="562" y="396" width="17" height="16" fill="#f2faac"/>
<rect x="579" y="396" width="17" height="16" fill="#d4ee9c"/>
<rect x="100" y="412" width="16" height="16" fill="#c8e99e"/>
<rect x="116" y="412" width="17" height="16" fill="#ddf19a"/>
<rect x="133" y="412" width="16" height="16" fill="#d4ee9c"/>
<rect x="149" y="412" width="17" height="16" fill="#9ad6a4"/>
<rect x="166" y="412" width="16" height="16" fill="#fbfeb9"/>
<rect x="182" y="412" width="17" height="16" fill="#9dd8a4"/>
<rect x="199" y="412" width="16" height="16" fill="#ddf19a"/>
<rect x="215" y="412" width="17" height="16" fill="#e8f69c"/>
<rect x="232" y="412" width="16" height="16" fill="#d1ed9c"/>
<rect x="248" y="412" width="33" height="16" fill="#eaf69e"/>
<rect x="281" y="412" width="17" height="16" fill="#c6e89f"/>
<rect x="298" y="412" width="16" height="16" fill="#e3f499"/>
<rect x="314" y="412" width="17" height="16" fill="#daf09a"/>
<rect x="331" y="412" width="17" height="16" fill="#f4faad"/>
<rect x="348" y="412" width="16" height="16" fill="#c0e5a0"/>
<rect x="364" y="412" width="17" height="16" fill="#eaf69e"/>
<rect x="381" y="412" width="16" height="16" fill="#daf09a"/>
<rect x="397" y="412" width="17" height="16" fill="#d4ee9c"/>
<rect x="414" y="412" width="16" height="16" fill="#daf09a"/>
<rect x="430" y="412" width="17" height="16" fill="#d1ed9c"/>
<rect x="447" y="412" width="16" height="16" fill="#f0f9a8"/>
<rect x="463" y="412" width="17" height="16" fill="#5e4fa2"/>
<rect x="480" y="412" width="16" height="16" fill="#eef8a4"/>
<rect x="496" y="412" width="17" height="16" fill="#daf09a"/>
<rect x="513" y="412" width="33" height="16" fill="#eaf69e"/>
<rect x="546" y="412" width="16" height="16" fill="#e3f499"/>
<rect x="562" y="412" width="17" height="16" fill="#e7f69a"/>
<rect x="579" y="412" width="17" height="16" fill="#e6f598"/>
<rect x="100" y="428" width="16" height="16" fill="#d7ef9b"/>
<rect x="116" y="428" width="17" height="16" fill="#d1ed9c"/>
<rect x="133" y="428" width="16" height="16" fill="#b7e2a2"/>
<rect x="149" y="428" width="17" height="16" fill="#c0e5a0"/>
<rect x="166" y="428" width="16" height="16" fill="#e8f69c"/>
<rect x="182" y="428" width="17" height="16" fill="#cbea9d"/>
<rect x="199" y="428" width="16" height="16" fill="#c0e5a0"/>
<rect x="215" y="428" width="17" height="16" fill="#f2faac"/>
<rect x="232" y="428" width="16" height="16" fill="#ddf19a"/>
<rect x="248" y="428" width="17" height="16" fill="#cbea9d"/>
<rect x="265" y="428" width="16" height="16" fill="#f6fcb1"/>
<rect x="281" y="428" width="17" height="16" fill="#cbea9d"/>
<rect x="298" y="428" width="16" height="16" fill="#ffffbf"/>
<rect x="314" y="428" width="17" height="16" fill="#d1ed9c"/>
<rect x="331" y="428" width="17" height="16" fill="#e0f399"/>
<rect x="348" y="428" width="16" height="16" fill="#d7ef9b"/>
<rect x="364" y="428" width="17" height="16" fill="#eff8a6"/>
<rect x="381" y="428" width="16" height="16" fill="#d7ef9b"/>
<rect x="397" y="428" width="17" height="16" fill="#e6f598"/>
<rect x="414" y="428" width="16" height="16" fill="#daf09a"/>
<rect x="430" y="428" width="17" height="16" fill="#e7f69a"/>
<rect x="447" y="428" width="16" height="16" fill="#d4ee9c"/>
<rect x="463" y="428" width="17" height="16" fill="#eef8a4"/>
<rect x="480" y="428" width="16" height="16" fill="#5e4fa2"/>
<rect x="496" y="428" width="17" height="16" fill="#e6f598"/>
<rect x="513" y="428" width="16" height="16" fill="#f7fcb3"/>
<rect x="529" y="428" width="17" height="16" fill="#d1ed9c"/>
<rect x="546" y="428" width="16" height="16" fill="#e8f69c"/>
<rect x="562" y="428" width="17" height="16" fill="#eaf69e"/>
<rect x="579" y="428" width="17" height="16" fill="#e8f69c"/>
<rect x="100" y="444" width="16" height="16" fill="#cbea9d"/>
<rect x="116" y="444" width="17" height="16" fill="#c6e89f"/>
<rect x="133" y="444" width="16" height="16" fill="#b4e1a2"/>
<rect x="149" y="444" width="17" height="16" fill="#93d4a4"/>
<rect x="166" y="444" width="16" height="16" fill="#ecf8a2"/>
<rect x="182" y="444" width="17" height="16" fill="#aedea3"/>
<rect x="199" y="444" width="16" height="16" fill="#b7e2a2"/>
<rect x="215" y="444" width="17" height="16" fill="#ddf19a"/>
<rect x="232" y="444" width="16" height="16" fill="#c3e79f"/>
<rect x="248" y="444" width="17" height="16" fill="#c8e99e"/>
<rect x="265" y="444" width="16" height="16" fill="#e6f598"/>
<rect x="281" y="444" width="17" height="16" fill="#c6e89f"/>
<rect x="298" y="444" width="16" height="16" fill="#e6f598"/>
<rect x="314" y="444" width="17" height="16" fill="#c6e89f"/>
<rect x="331" y="444" width="17" height="16" fill="#f0f9a8"/>
<rect x="348" y="444" width="16" height="16" fill="#abdda4"/>
<rect x="364" y="444" width="17" height="16" fill="#e8f69c"/>
<rect x="381" y="444" width="16" height="16" fill="#bde4a0"/>
<rect x="397" y="444" width="17" height="16" fill="#ceeb9d"/>
<rect x="414" y="444" width="16" height="16" fill="#d4ee9c"/>
<rect x="430" y="444" width="17" height="16" fill="#ebf7a0"/>
<rect x="447" y="444" width="16" height="16" fill="#ecf8a2"/>
<rect x="463" y="444" width="17" height="16" fill="#daf09a"/>
<rect x="480" y="444" width="16" height="16" fill="#e6f598"/>
<rect x="496" y="444" width="17" height="16" fill="#5e4fa2"/>
<rect x="513" y="444" width="16" height="16" fill="#ceeb9d"/>
<rect x="529" y="444" width="17" height="16" fill="#b1dfa3"/>
<rect x="546" y="444" width="16" height="16" fill="#ecf8a2"/>
<rect x="562" y="444" width="17" height="16" fill="#f0f9a8"/>
<rect x="579" y="444" width="17" height="16" fill="#ceeb9d"/>
<rect x="100" y="460" width="16" height="16" fill="#cbea9d"/>
<rect x="116" y="460" width="17" height="16" fill="#daf09a"/>
<rect x="133" y="460" width="16" height="16" fill="#c0e5a0"/>
<rect x="149" y="460" width="17" height="16" fill="#96d5a4"/>
<rect x="166" y="460" width="16" height="16" fill="#f0f9a8"/>
<rect x="182" y="460" width="17" height="16" fill="#c0e5a0"/>
<rect x="199" y="460" width="16" height="16" fill="#d1ed9c"/>
<rect x="215" y="460" width="17" height="16" fill="#f9fcb5"/>
<rect x="232" y="460" width="16" height="16" fill="#c3e79f"/>
<rect x="248" y="460" width="17" height="16" fill="#daf09a"/>
<rect x="265" y="460" width="16" height="16" fill="#d1ed9c"/>
<rect x="281" y="460" width="17" height="16" fill="#cbea9d"/>
<rect x="298" y="460" width="16" height="16" fill="#ceeb9d"/>
<rect x="314" y="460" width="17" height="16" fill="#d1ed9c"/>
<rect x="331" y="460" width="17" height="16" fill="#e0f399"/>
<rect x="348" y="460" width="16" height="16" fill="#daf09a"/>
<rect x="364" y="460" width="17" height="16" fill="#d4ee9c"/>
<rect x="381" y="460" width="16" height="16" fill="#cbea9d"/>
<rect x="397" y="460" width="17" height="16" fill="#e0f399"/>
<rect x="414" y="460" width="16" height="16" fill="#ddf19a"/>
<rect x="430" y="460" width="17" height="16" fill="#b4e1a2"/>
<rect x="447" y="460" width="16" height="16" fill="#f1faaa"/>
<rect x="463" y="460" width="17" height="16" fill="#eaf69e"/>
<rect x="480" y="460" width="16" height="16" fill="#f7fcb3"/>
<rect x="496" y="460" width="17" height="16" fill="#ceeb9d"/>
<rect x="513" y="460" width="16" height="16" fill="#5e4fa2"/>
<rect x="529" y="460" width="33" height="16" fill="#ecf8a2"/>
<rect x="562" y="460" width="17" height="16" fill="#ffffbf"/>
<rect x="579" y="460" width="17" height="16" fill="#f2faac"/>
<rect x="100" y="476" width="16" height="16" fill="#daf09a"/>
<rect x="116" y="476" width="17" height="16" fill="#e6f598"/>
<rect x="133" y="476" width="16" height="16" fill="#c3e79f"/>
<rect x="149" y="476" width="17" height="16" fill="#b4e1a2"/>
<rect x="166" y="476" width="16" height="16" fill="#eef8a4"/>
<rect x="182" y="476" width="17" height="16" fill="#ceeb9d"/>
<rect x="199" y="476" width="16" height="16" fill="#eaf69e"/>
<rect x="215" y="476" width="17" height="16" fill="#e8f69c"/>
<rect x="232" y="476" width="16" height="16" fill="#c6e89f"/>
<rect x="248" y="476" width="17" height="16" fill="#e0f399"/>
<rect x="265" y="476" width="16" height="16" fill="#f9fcb5"/>
<rect x="281" y="476" width="17" height="16" fill="#cbea9d"/>
<rect x="298" y="476" width="16" height="16" fill="#c0e5a0"/>
<rect x="314" y="476" width="34" height="16" fill="#e0f399"/>
<rect x="348" y="476" width="16" height="16" fill="#c8e99e"/>
<rect x="364" y="476" width="17" height="16" fill="#d4ee9c"/>
<rect x="381" y="476" width="16" height="16" fill="#e0f399"/>
<rect x="397" y="476" width="17" height="16" fill="#e3f499"/>
<rect x="414" y="476" width="16" height="16" fill="#c3e79f"/>
<rect x="430" y="476" width="17" height="16" fill="#ddf19a"/>
<rect x="447" y="476" width="16" height="16" fill="#f0f9a8"/>
<rect x="463" y="476" width="17" height="16" fill="#eaf69e"/>
<rect x="480" y="476" width="16" height="16" fill="#d1ed9c"/>
<rect x="496" y="476" width="17" height="16" fill="#b1dfa3"/>
<rect x="513" y="476" width="16" height="16" fill="#ecf8a2"/>
<rect x="529" y="476" width="17" height="16" fill="#5e4fa2"/>
<rect x="546" y="476" width="16" height="16" fill="#ebf7a0"/>
<rect x="562" y="476" width="17" height="16" fill="#e6f598"/>
<rect x="579" y="476" width="17" height="16" fill="#eaf69e"/>
<rect x="100" y="492" width="16" height="16" fill="#abdda4"/>
<rect x="116" y="492" width="17" height="16" fill="#bae3a1"/>
<rect x="133" y="492" width="16" height="16" fill="#b7e2a2"/>
<rect x="149" y="492" width="33" height="16" fill="#82cda5"/>
<rect x="182" y="492" width="17" height="16" fill="#88d0a4"/>
<rect x="199" y="492" width="16" height="16" fill="#eaf69e"/>
<rect x="215" y="492" width="17" height="16" fill="#b7e2a2"/>
<rect x="232" y="492" width="33" height="16" fill="#bde4a0"/>
<rect x="265" y="492" width="16" height="16" fill="#e7f69a"/>
<rect x="281" y="492" width="17" height="16" fill="#a8dca4"/>
<rect x="298" y="492" width="16" height="16" fill="#ddf19a"/>
<rect x="314" y="492" width="17" height="16" fill="#e0f399"/>
<rect x="331" y="492" width="17" height="16" fill="#c8e99e"/>
<rect x="348" y="492" width="16" height="16" fill="#a4daa4"/>
<rect x="364" y="492" width="17" height="16" fill="#c3e79f"/>
<rect x="381" y="492" width="16" height="16" fill="#c6e89f"/>
<rect x="397" y="492" width="17" height="16" fill="#aedea3"/>
<rect x="414" y="492" width="16" height="16" fill="#e3f499"/>
<rect x="430" y="492" width="17" height="16" fill="#c0e5a0"/>
<rect x="447" y="492" width="16" height="16" fill="#c3e79f"/>
<rect x="463" y="492" width="17" height="16" fill="#e3f499"/>
<rect x="480" y="492" width="16" height="16" fill="#e8f69c"/>
<rect x="496" y="492" width="33" height="16" fill="#ecf8a2"/>
<rect x="529" y="492" width="17" height="16" fill="#ebf7a0"/>
<rect x="546" y="492" width="16" height="16" fill="#5e4fa2"/>
<rect x="562" y="492" width="17" height="16" fill="#f5fbaf"/>
<rect x="579" y="492" width="17" height="16" fill="#ddf19a"/>
<rect x="100" y="508" width="16" height="16" fill="#f2faac"/>
<rect x="116" y="508" width="17" height="16" fill="#ffffbf"/>
<rect x="133" y="508" width="16" height="16" fill="#ecf8a2"/>
<rect x="149" y="508" width="17" height="16" fill="#e0f399"/>
<rect x="166" y="508" width="16" height="16" fill="#c8e99e"/>
<rect x="182" y="508" width="17" height="16" fill="#eaf69e"/>
<rect x="199" y="508" width="16" height="16" fill="#f9fcb5"/>
<rect x="215" y="508" width="17" height="16" fill="#e8f69c"/>
<rect x="232" y="508" width="16" height="16" fill="#f0f9a8"/>
<rect x="248" y="508" width="17" height="16" fill="#f2faac"/>
<rect x="265" y="508" width="16" height="16" fill="#fcfebb"/>
<rect x="281" y="508" width="17" height="16" fill="#f2faac"/>
<rect x="298" y="508" width="16" height="16" fill="#f1faaa"/>
<rect x="314" y="508" width="17" height="16" fill="#f0f9a8"/>
<rect x="331" y="508" width="17" height="16" fill="#ecf8a2"/>
<rect x="348" y="508" width="33" height="16" fill="#eff8a6"/>
<rect x="381" y="508" width="16" height="16" fill="#ecf8a2"/>
<rect x="397" y="508" width="17" height="16" fill="#ffffbf"/>
<rect x="414" y="508" width="16" height="16" fill="#e7f69a"/>
<rect x="430" y="508" width="17" height="16" fill="#eff8a6"/>
<rect x="447" y="508" width="16" height="16" fill="#f2faac"/>
<rect x="463" y="508" width="17" height="16" fill="#e7f69a"/>
<rect x="480" y="508" width="16" height="16" fill="#eaf69e"/>
<rect x="496" y="508" width="17" height="16" fill="#f0f9a8"/>
<rect x="513" y="508" width="16" height="16" fill="#ffffbf"/>
<rect x="529" y="508" width="17" height="16" fill="#e6f598"/>
<rect x="546" y="508" width="16" height="16" fill="#f5fbaf"/>
<rect x="562" y="508" width="17" height="16" fill="#5e4fa2"/>
<rect x="579" y="508" width="17" height="16" fill="#ddf19a"/>
<rect x="100" y="524" width="16" height="16" fill="#e6f598"/>
<rect x="116" y="524" width="17" height="16" fill="#d7ef9b"/>
<rect x="133" y="524" width="33" height="16" fill="#abdda4"/>
<rect x="166" y="524" width="16" height="16" fill="#ceeb9d"/>
<rect x="182" y="524" width="17" height="16" fill="#93d4a4"/>
<rect x="199" y="524" width="16" height="16" fill="#eaf69e"/>
<rect x="215" y="524" width="17" height="16" fill="#e8f69c"/>
<rect x="232" y="524" width="16" height="16" fill="#d7ef9b"/>
<rect x="248" y="524" width="17" height="16" fill="#e0f399"/>
<rect x="265" y="524" width="16" height="16" fill="#e8f69c"/>
<rect x="281" y="524" width="17" height="16" fill="#ddf19a"/>
<rect x="298" y="524" width="16" height="16" fill="#eaf69e"/>
<rect x="314" y="524" width="17" height="16" fill="#e0f399"/>
<rect x="331" y="524" width="17" height="16" fill="#e6f598"/>
<rect x="348" y="524" width="16" height="16" fill="#ceeb9d"/>
<rect x="364" y="524" width="17" height="16" fill="#e8f69c"/>
<rect x="381" y="524" width="16" height="16" fill="#ecf8a2"/>
<rect x="397" y="524" width="17" height="16" fill="#eaf69e"/>
<rect x="414" y="524" width="16" height="16" fill="#eef8a4"/>
<rect x="430" y="524" width="17" height="16" fill="#d7ef9b"/>
<rect x="447" y="524" width="16" height="16" fill="#d4ee9c"/>
<rect x="463" y="524" width="17" height="16" fill="#e6f598"/>
<rect x="480" y="524" width="16" height="16" fill="#e8f69c"/>
<rect x="496" y="524" width="17" height="16" fill="#ceeb9d"/>
<rect x="513" y="524" width="16" height="16" fill="#f2faac"/>
<rect x="529" y="524" width="17" height="16" fill="#eaf69e"/>
<rect x="546" y="524" width="33" height="16" fill="#ddf19a"/>
<rect x="579" y="524" width="17" height="16" fill="#5e4fa2"/>
</g>
<g stroke="#000" stroke-width="1" fill="none">
<path d="M99.5 59.5H595.5V539.5H99.5Z"/>
<path stroke-width="0.75" d="M100 67.5h5.5M595 67.5h-5.5M100 83.5h5.5M595 83.5h-5.5M100 99.5h5.5M595 99.5h-5.5M100 115.5h5.5M595 115.5h-5.5M100 131.5h5.5M595 131.5h-5.5M100 147.5h5.5M595 147.5h-5.5M100 163.5h5.5M595 163.5h-5.5M100 179.5h5.5M595 179.5h-5.5M100 195.5h5.5M595 195.5h-5.5M100 211.5h5.5M595 211.5h-5.5M100 227.5h5.5M595 227.5h-5.5M100 243.5h5.5M595 243.5h-5.5M100 259.5h5.5M595 259.5h-5.5M100 275.5h5.5M595 275.5h-5.5M100 291.5h5.5M595 291.5h-5.5M100 307.5h5.5M595 307.5h-5.5M100 323.5h5.5M595 323.5h-5.5M100 339.5h5.5M595 339.5h-5.5M100 355.5h5.5M595 355.5h-5.5M100 371.5h5.5M595 371.5h-5.5M100 387.5h5.5M595 387.5h-5.5M100 403.5h5.5M595 403.5h-5.5M100 419.5h5.5M595 419.5h-5.5M100 435.5h5.5M595 435.5h-5.5M100 451.5h5.5M595 451.5h-5.5M100 467.5h5.5M595 467.5h-5.5M100 483.5h5.5M595 483.5h-5.5M100 499.5h5.5M595 499.5h-5.5M100 515.5h5.5M595 515.5h-5.5M100 531.5h5.5M595 531.5h-5.5M107.5 539v-5.5M124.5 539v-5.5M140.5 539v-5.5M157.5 539v-5.5M173.5 539v-5.5M190.5 539v-5.5M206.5 539v-5.5M223.5 539v-5.5M240.5 539v-5.5M256.5 539v-5.5M273.5 539v-5.5M289.5 539v-5.5M306.5 539v-5.5M322.5 539v-5.5M339.5 539v-5.5M355.5 539v-5.5M372.5 539v-5.5M388.5 539v-5.5M405.5 539v-5.5M421.5 539v-5.5M438.5 539v-5.5M454.5 539v-5.5M471.5 539v-5.5M488.5 539v-5.5M504.5 539v-5.5M521.5 539v-5.5M537.5 539v-5.5M554.5 539v-5.5M570.5 539v-5.5M587.5 539v-5.5"/>
</g>
<text class="yl" x="93.3" y="74">ar</text>
<text class="yl" x="93.3" y="92">de</text>
<text class="yl" x="93.3" y="108">el</text>
<text class="yl" x="93.3" y="122">en</text>
<text class="yl" x="93.3" y="138">es</text>
<text class="yl" x="93.3" y="156">fr</text>
<text class="yl" x="93.3" y="172">he</text>
<text class="yl" x="93.3" y="186">ro</text>
<text class="yl" x="93.3" y="202">ru</text>
<text class="yl" x="93.3" y="218">sv</text>
<text class="yl" x="93.3" y="236">sh</text>
<text class="yl" x="93.3" y="252">tr</text>
<text class="yl" x="93.3" y="267">te</text>
<text class="yl" x="93.3" y="282">cs</text>
<text class="yl" x="93.3" y="298">eo</text>
<text class="yl" x="93.3" y="315">gl</text>
<text class="yl" x="93.3" y="332">uk</text>
<text class="yl" x="93.3" y="347">bg</text>
<text class="yl" x="93.3" y="364">id</text>
<text class="yl" x="93.3" y="378">ms</text>
<text class="yl" x="93.3" y="396">mk</text>
<text class="yl" x="93.3" y="410">ca</text>
<text class="yl" x="93.3" y="428">fi</text>
<text class="yl" x="93.3" y="444">da</text>
<text class="yl" x="93.3" y="460">hu</text>
<text class="yl" x="93.3" y="475">pl</text>
<text class="yl" x="93.3" y="492">hi</text>
<text class="yl" x="93.3" y="507">pt</text>
<text class="yl" x="93.3" y="524">nl</text>
<text class="yl" x="93.3" y="540">it</text>
<text class="xl" transform="translate(113.04 545) rotate(-90)" x="0" y="0">ar</text>
<text class="xl" transform="translate(131.65 545) rotate(-90)" x="0" y="0">de</text>
<text class="xl" transform="translate(148.19 545) rotate(-90)" x="0" y="0">el</text>
<text class="xl" transform="translate(162.64 545) rotate(-90)" x="0" y="0">en</text>
<text class="xl" transform="translate(179.18 545) rotate(-90)" x="0" y="0">es</text>
<text class="xl" transform="translate(197.93 545) rotate(-90)" x="0" y="0">fr</text>
<text class="xl" transform="translate(214.32 545) rotate(-90)" x="0" y="0">he</text>
<text class="xl" transform="translate(228.78 545) rotate(-90)" x="0" y="0">ro</text>
<text class="xl" transform="translate(245.31 545) rotate(-90)" x="0" y="0">ru</text>
<text class="xl" transform="translate(261.84 545) rotate(-90)" x="0" y="0">sv</text>
<text class="xl" transform="translate(280.45 545) rotate(-90)" x="0" y="0">sh</text>
<text class="xl" transform="translate(296.54 545) rotate(-90)" x="0" y="0">tr</text>
<text class="xl" transform="translate(312.92 545) rotate(-90)" x="0" y="0">te</text>
<text class="xl" transform="translate(327.98 545) rotate(-90)" x="0" y="0">cs</text>
<text class="xl" transform="translate(344.51 545) rotate(-90)" x="0" y="0">eo</text>
<text class="xl" transform="translate(361.1 545) rotate(-90)" x="0" y="0">gl</text>
<text class="xl" transform="translate(379.65 545) rotate(-90)" x="0" y="0">uk</text>
<text class="xl" transform="translate(394.17 545) rotate(-90)" x="0" y="0">bg</text>
<text class="xl" transform="translate(412.72 545) rotate(-90)" x="0" y="0">id</text>
<text class="xl" transform="translate(427.18 545) rotate(-90)" x="0" y="0">ms</text>
<text class="xl" transform="translate(445.93 545) rotate(-90)" x="0" y="0">mk</text>
<text class="xl" transform="translate(460.24 545) rotate(-90)" x="0" y="0">ca</text>
<text class="xl" transform="translate(479 545) rotate(-90)" x="0" y="0">fi</text>
<text class="xl" transform="translate(495.39 545) rotate(-90)" x="0" y="0">da</text>
<text class="xl" transform="translate(511.92 545) rotate(-90)" x="0" y="0">hu</text>
<text class="xl" transform="translate(526.44 545) rotate(-90)" x="0" y="0">pl</text>
<text class="xl" transform="translate(545.13 545) rotate(-90)" x="0" y="0">hi</text>
<text class="xl" transform="translate(558.91 545) rotate(-90)" x="0" y="0">pt</text>
<text class="xl" transform="translate(578.2 545) rotate(-90)" x="0" y="0">nl</text>
<text class="xl" transform="translate(594.73 545) rotate(-90)" x="0" y="0">it</text>
<text class="t" x="347.6" y="53" text-anchor="middle">Correlation of Wiki pages between different languages</text>
<rect x="626.5" y="59.5" width="24" height="480" fill="url(#cb)" stroke="#000" stroke-width="1"/>
<text class="cl" x="655" y="66">1.0</text>
<text class="cl" x="655" y="114">0.8</text>
<text class="cl" x="655" y="162">0.6</text>
<text class="cl" x="655" y="210">0.4</text>
<text class="cl" x="655" y="258">0.2</text>
<text class="cl" x="655" y="306">0.0</text>
<text class="cl" x="656.3" y="354">-0.2</text>
<text class="cl" x="656.3" y="402">-0.4</text>
<text class="cl" x="656.3" y="450">-0.6</text>
<text class="cl" x="656.3" y="498">-0.8</text>
<text class="cl" x="656.3" y="546">-1.0</text>
<path stroke="#000" stroke-width="0.75" d="M650.5 107.5h-5.5M650.5 155.5h-5.5M650.5 203.5h-5.5M650.5 251.5h-5.5M650.5 299.5h-5.5M650.5 347.5h-5.5M650.5 395.5h-5.5M650.5 443.5h-5.5M650.5 491.5h-5.5"/>
</svg></body></html>
